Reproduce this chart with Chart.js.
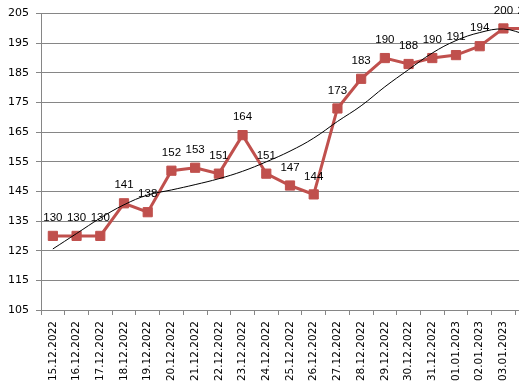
<!DOCTYPE html>
<html>
<head>
<meta charset="utf-8">
<script src="https://cdn.jsdelivr.net/npm/chart.js@4/dist/chart.umd.min.js"></script>
<style>
  html, body { margin: 0; padding: 0; background: #fff; overflow: hidden; }
  canvas { display: block; }
</style>
</head>
<body>
<canvas id="priceChart" width="519" height="389"></canvas>
<script>
const dates = ["15.12.2022", "16.12.2022", "17.12.2022", "18.12.2022", "19.12.2022",
  "20.12.2022", "21.12.2022", "22.12.2022", "23.12.2022", "24.12.2022", "25.12.2022",
  "26.12.2022", "27.12.2022", "28.12.2022", "29.12.2022", "30.12.2022", "31.12.2022",
  "01.01.2023", "02.01.2023", "03.01.2023", "04.01.2023"];
const prices = [130, 130, 130, 141, 138, 152, 153, 151, 164, 151, 147, 144, 173, 183,
  190, 188, 190, 191, 194, 200, 200];
const trend = [125.6, 130.8, 136, 140.5, 143.8, 145.5, 147.3, 149.3, 151.8, 155, 158.6,
  163, 168.6, 173.9, 180.3, 186.1, 191.7, 195.9, 198.6, 199.8, 197.8];
const yTicks = [105, 115, 125, 135, 145, 155, 165, 175, 185, 195, 205];

const red = "#C0504D";
const gridGray = "#868686";

// the original plot runs past the right edge of the picture
const overflowRight = {
  id: "overflowRight",
  afterLayout(chart) {
    const xs = chart.scales.x;
    const right = chart.width + 20;
    xs.right = right;
    xs.width = right - xs.left;
    xs.configure();
    chart.chartArea.right = right;
    chart.chartArea.width = right - chart.chartArea.left;
  }
};

// draws the value above each point of the price series
const valueLabels = {
  id: "valueLabels",
  afterDatasetsDraw(chart) {
    const ctx = chart.ctx;
    const meta = chart.getDatasetMeta(1);
    ctx.save();
    ctx.font = "11.5px 'Liberation Sans', Arial, sans-serif";
    ctx.fillStyle = "#000";
    ctx.textAlign = "center";
    ctx.textBaseline = "middle";
    meta.data.forEach((pt, i) => {
      ctx.fillText(String(prices[i]), pt.x, pt.y - 18);
    });
    ctx.restore();
  }
};

new Chart(document.getElementById("priceChart"), {
  type: "line",
  data: {
    labels: dates,
    datasets: [
      {
        label: "trend",
        data: trend,
        borderColor: "#000",
        borderWidth: 1,
        pointRadius: 0,
        tension: 0.4,
        fill: false,
        clip: false,
        order: 0,
      },
      {
        label: "price",
        data: prices,
        borderColor: red,
        backgroundColor: red,
        borderWidth: 3,
        pointStyle: "rect",
        pointRadius: 6.5,
        pointBorderWidth: 1,
        pointBorderColor: red,
        pointBackgroundColor: red,
        tension: 0,
        fill: false,
        clip: false,
        order: 1,
      },
    ],
  },
  options: {
    responsive: false,
    devicePixelRatio: 1,
    animation: false,
    layout: { padding: { top: 10, left: 0, right: 0, bottom: 0 } },
    plugins: {
      legend: { display: false },
      tooltip: { enabled: false },
    },
    scales: {
      x: {
        offset: true,
        grid: {
          offset: true,
          drawOnChartArea: false,
          drawTicks: true,
          tickLength: 5,
          color: gridGray,
        },
        border: { color: gridGray },
        ticks: {
          autoSkip: false,
          minRotation: 90,
          maxRotation: 90,
          padding: 6,
          color: "#000",
          font: { family: "'DejaVu Sans', Verdana, sans-serif", size: 10.5 },
        },
        afterFit(scale) { scale.height = 79; },
      },
      y: {
        min: 105,
        max: 205,
        afterBuildTicks(scale) { scale.ticks = yTicks.map((v) => ({ value: v })); },
        grid: { color: gridGray, tickLength: 5 },
        border: { color: gridGray },
        ticks: {
          padding: 7,
          color: "#000",
          font: { family: "'DejaVu Sans', Verdana, sans-serif", size: 11 },
        },
        afterFit(scale) { scale.width = 41; },
      },
    },
  },
  plugins: [overflowRight, valueLabels],
});
</script>
</body>
</html>
